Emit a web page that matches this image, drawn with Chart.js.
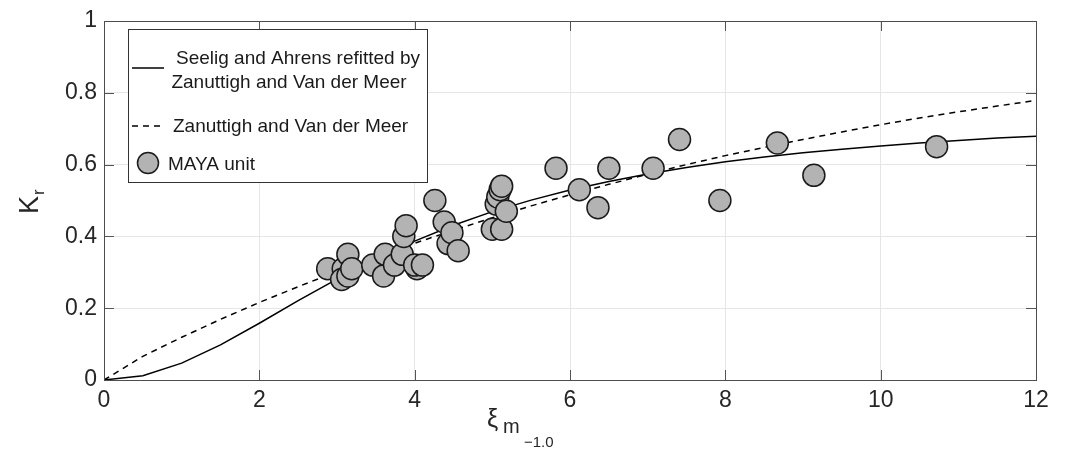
<!DOCTYPE html>
<html>
<head>
<meta charset="utf-8">
<script src="https://cdn.jsdelivr.net/npm/chart.js@4.4.1/dist/chart.umd.min.js"></script>
<style>
  html, body { margin: 0; padding: 0; background: #fff; }
  #wrap { width: 1067px; height: 454px; }
</style>
</head>
<body>
<div id="wrap"><canvas id="krChart"></canvas></div>
<script>
// measured points (MAYA unit)
const mayaX = [2.88, 3.08, 3.14, 3.06, 3.14, 3.19, 3.46, 3.60, 3.62, 3.74, 3.84, 3.86, 3.89, 4.03, 4.00, 4.10,
               4.26, 4.38, 4.43, 4.48, 4.56, 5.00, 5.05, 5.07, 5.10, 5.12, 5.12, 5.18,
               5.82, 6.12, 6.36, 6.50, 7.07, 7.41, 7.93, 8.67, 9.14, 10.72];
const mayaY = [0.31, 0.31, 0.35, 0.28, 0.29, 0.31, 0.32, 0.29, 0.35, 0.32, 0.35, 0.40, 0.43, 0.31, 0.32, 0.32,
               0.50, 0.44, 0.38, 0.41, 0.36, 0.42, 0.49, 0.51, 0.53, 0.54, 0.42, 0.47,
               0.59, 0.53, 0.48, 0.59, 0.59, 0.67, 0.50, 0.66, 0.57, 0.65];

const curveX = [0, 0.5, 1, 1.5, 2, 2.5, 3, 3.5, 4, 4.5, 5, 5.5, 6, 6.5, 7, 7.5, 8, 8.5, 9, 9.5, 10, 10.5, 11, 11.5, 12];
const seeligY = [0, 0.012, 0.047, 0.098, 0.158, 0.221, 0.281, 0.337, 0.387, 0.431, 0.469, 0.501, 0.529, 0.553,
                 0.574, 0.592, 0.608, 0.621, 0.633, 0.643, 0.652, 0.660, 0.667, 0.674, 0.679];
const zvdmY = [0, 0.066, 0.119, 0.169, 0.216, 0.260, 0.302, 0.342, 0.381, 0.417, 0.452, 0.485, 0.516, 0.545,
               0.573, 0.600, 0.625, 0.648, 0.670, 0.691, 0.711, 0.730, 0.747, 0.763, 0.779];

const xTicks = [0, 2, 4, 6, 8, 10, 12];
const yTicks = [0, 0.2, 0.4, 0.6, 0.8, 1];

const FONT = '"Liberation Sans", Arial, Helvetica, sans-serif';
const MARKER_FILL = '#b3b3b3';
const MARKER_EDGE = '#1a1a1a';

function toPoints(xs, ys) {
    return xs.map((x, i) => ({ x: x, y: ys[i] }));
}

// frame, inner tick marks, axis titles and the legend box
const matlabAxes = {
    id: 'matlabAxes',
    afterDraw(chart) {
        const ctx = chart.ctx;
        const a = chart.chartArea;
        const sx = chart.scales.x, sy = chart.scales.y;
        ctx.save();

        // inner ticks
        ctx.strokeStyle = '#555';
        ctx.lineWidth = 1;
        ctx.beginPath();
        xTicks.forEach(v => {
            const px = Math.round(sx.getPixelForValue(v)) + 0.5;
            ctx.moveTo(px, a.bottom); ctx.lineTo(px, a.bottom - 10);
            ctx.moveTo(px, a.top); ctx.lineTo(px, a.top + 10);
        });
        yTicks.forEach(v => {
            const py = Math.round(sy.getPixelForValue(v)) + 0.5;
            ctx.moveTo(a.left, py); ctx.lineTo(a.left + 10, py);
            ctx.moveTo(a.right, py); ctx.lineTo(a.right - 10, py);
        });
        ctx.stroke();

        // box
        ctx.strokeStyle = '#4d4d4d';
        ctx.strokeRect(Math.round(a.left) + 0.5, Math.round(a.top) + 0.5,
                       Math.round(a.right - a.left), Math.round(a.bottom - a.top));

        // y title: K_r
        ctx.fillStyle = '#262626';
        ctx.save();
        ctx.translate(38, 214);
        ctx.rotate(-Math.PI / 2);
        ctx.textBaseline = 'alphabetic';
        ctx.textAlign = 'left';
        ctx.font = '27px ' + FONT;
        ctx.fillText('K', 0, 0);
        const kw = ctx.measureText('K').width;
        ctx.font = '17px ' + FONT;
        ctx.fillText('r', kw + 1, 6);
        ctx.restore();

        // x title: xi_{m_{-1.0}}
        ctx.textAlign = 'left';
        ctx.textBaseline = 'alphabetic';
        ctx.font = '25px ' + FONT;
        ctx.fillText('ξ', 487, 427);
        ctx.font = '20px ' + FONT;
        ctx.fillText('m', 503, 433);
        ctx.font = '15px ' + FONT;
        ctx.fillText('\u22121.0', 524, 447);

        // legend
        const lx = 128.5, ly = 29.5, lw = 299, lh = 153;
        ctx.fillStyle = '#fff';
        ctx.fillRect(lx, ly, lw, lh);
        ctx.strokeStyle = '#333';
        ctx.lineWidth = 1;
        ctx.strokeRect(lx, ly, lw, lh);

        ctx.strokeStyle = '#000';
        ctx.lineWidth = 1.5;
        ctx.setLineDash([]);
        ctx.beginPath(); ctx.moveTo(132, 68); ctx.lineTo(164, 68); ctx.stroke();
        ctx.setLineDash([6, 5]);
        ctx.beginPath(); ctx.moveTo(132, 126); ctx.lineTo(164, 126); ctx.stroke();
        ctx.setLineDash([]);

        ctx.beginPath();
        ctx.arc(148, 163, 10.5, 0, Math.PI * 2);
        ctx.fillStyle = MARKER_FILL;
        ctx.fill();
        ctx.strokeStyle = MARKER_EDGE;
        ctx.lineWidth = 1.5;
        ctx.stroke();

        ctx.fillStyle = '#1a1a1a';
        ctx.font = '19px ' + FONT;
        ctx.textBaseline = 'alphabetic';
        ctx.textAlign = 'center';
        ctx.fillText('Seelig and Ahrens refitted by', 298, 64);
        ctx.fillText('Zanuttigh and Van der Meer', 289, 88);
        ctx.textAlign = 'left';
        ctx.fillText('Zanuttigh and Van der Meer', 173, 132);
        ctx.fillText('MAYA unit', 168, 170);

        ctx.restore();
    }
};

const ctx = document.getElementById('krChart').getContext('2d');
new Chart(ctx, {
    type: 'scatter',
    data: {
        datasets: [
            {
                label: 'MAYA unit',
                data: toPoints(mayaX, mayaY),
                pointRadius: 11,
                pointHoverRadius: 11,
                pointBackgroundColor: MARKER_FILL,
                pointBorderColor: MARKER_EDGE,
                pointBorderWidth: 1.5,
                order: 0
            },
            {
                label: 'Seelig and Ahrens refitted by Zanuttigh and Van der Meer',
                type: 'line',
                data: toPoints(curveX, seeligY),
                borderColor: '#000',
                borderWidth: 1.5,
                pointRadius: 0,
                tension: 0,
                fill: false,
                order: 1
            },
            {
                label: 'Zanuttigh and Van der Meer',
                type: 'line',
                data: toPoints(curveX, zvdmY),
                borderColor: '#000',
                borderWidth: 1.5,
                borderDash: [6, 5],
                pointRadius: 0,
                tension: 0,
                fill: false,
                order: 2
            }
        ]
    },
    options: {
        responsive: true,
        maintainAspectRatio: false,
        animation: false,
        events: [],
        layout: { padding: { top: 21, right: 31, left: 0, bottom: 0 } },
        plugins: {
            legend: { display: false },
            tooltip: { enabled: false }
        },
        scales: {
            x: {
                type: 'linear',
                min: 0,
                max: 12,
                afterFit: scale => { scale.height = 74; },
                afterBuildTicks: scale => { scale.ticks = xTicks.map(v => ({ value: v })); },
                border: { display: false },
                grid: { color: '#e6e6e6', lineWidth: 1, drawTicks: false },
                ticks: {
                    padding: 7,
                    color: '#262626',
                    font: { family: FONT, size: 23 },
                    maxRotation: 0,
                    callback: v => String(v)
                }
            },
            y: {
                type: 'linear',
                min: 0,
                max: 1,
                afterFit: scale => { scale.width = 104; },
                afterBuildTicks: scale => { scale.ticks = yTicks.map(v => ({ value: v })); },
                border: { display: false },
                grid: { color: '#e6e6e6', lineWidth: 1, drawTicks: false },
                ticks: {
                    padding: 7,
                    color: '#262626',
                    font: { family: FONT, size: 23 },
                    callback: v => String(Math.round(v * 10) / 10)
                }
            }
        }
    },
    plugins: [matlabAxes]
});
</script>
</body>
</html>
